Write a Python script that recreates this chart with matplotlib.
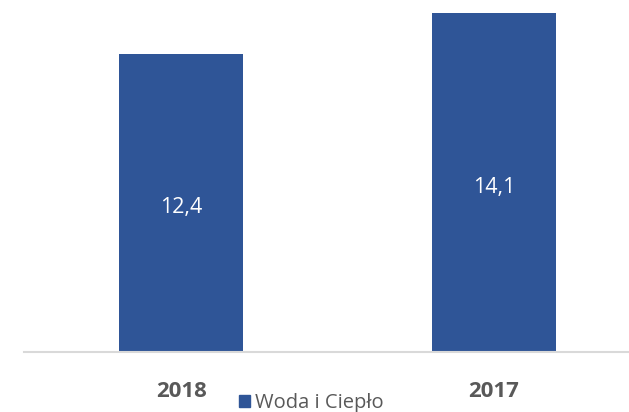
import matplotlib.pyplot as plt
from matplotlib.patches import Patch

# dane z wykresu
lata = ["2018", "2017"]
wartosci = [12.4, 14.1]
etykiety = ["12,4", "14,1"]
seria = "Woda i Ciepło"

kolor = "#2F5597"
szary = "#595959"

plt.rcParams['font.family'] = ['Open Sans', 'DejaVu Sans']

fig = plt.figure(figsize=(6.29, 4.12), dpi=100)
ax = fig.add_axes([24 / 629, 60 / 412, 605 / 629, 352 / 412])

x = list(range(len(lata)))
bary = ax.bar(x, wartosci, width=0.396, color=kolor)

# etykiety wartosci w srodku slupkow
for xi, v, t in zip(x, wartosci, etykiety):
    ax.text(xi, v / 2 - 0.2, t, ha="center", va="center", color="white", fontsize=15.5)

ax.set_xlim(-0.502, 1.431)
ax.set_ylim(0, 14.64)
ax.set_xticks(x)
ax.set_xticklabels(lata, fontsize=16, fontweight="bold", color=szary)
ax.tick_params(axis="x", length=0, pad=21)
ax.set_yticks([])

for s in ["top", "right", "left"]:
    ax.spines[s].set_visible(False)
ax.spines["bottom"].set_color("#D9D9D9")
ax.spines["bottom"].set_linewidth(1.5)

fig.legend(handles=[Patch(color=kolor, label=seria)], loc="center",
           bbox_to_anchor=(311 / 629, 9 / 412), frameon=False,
           fontsize=14.5, labelcolor=szary, handlelength=0.55, handleheight=0.55,
           handletextpad=0.25, borderpad=0)

fig.savefig("out.png", dpi=100)
